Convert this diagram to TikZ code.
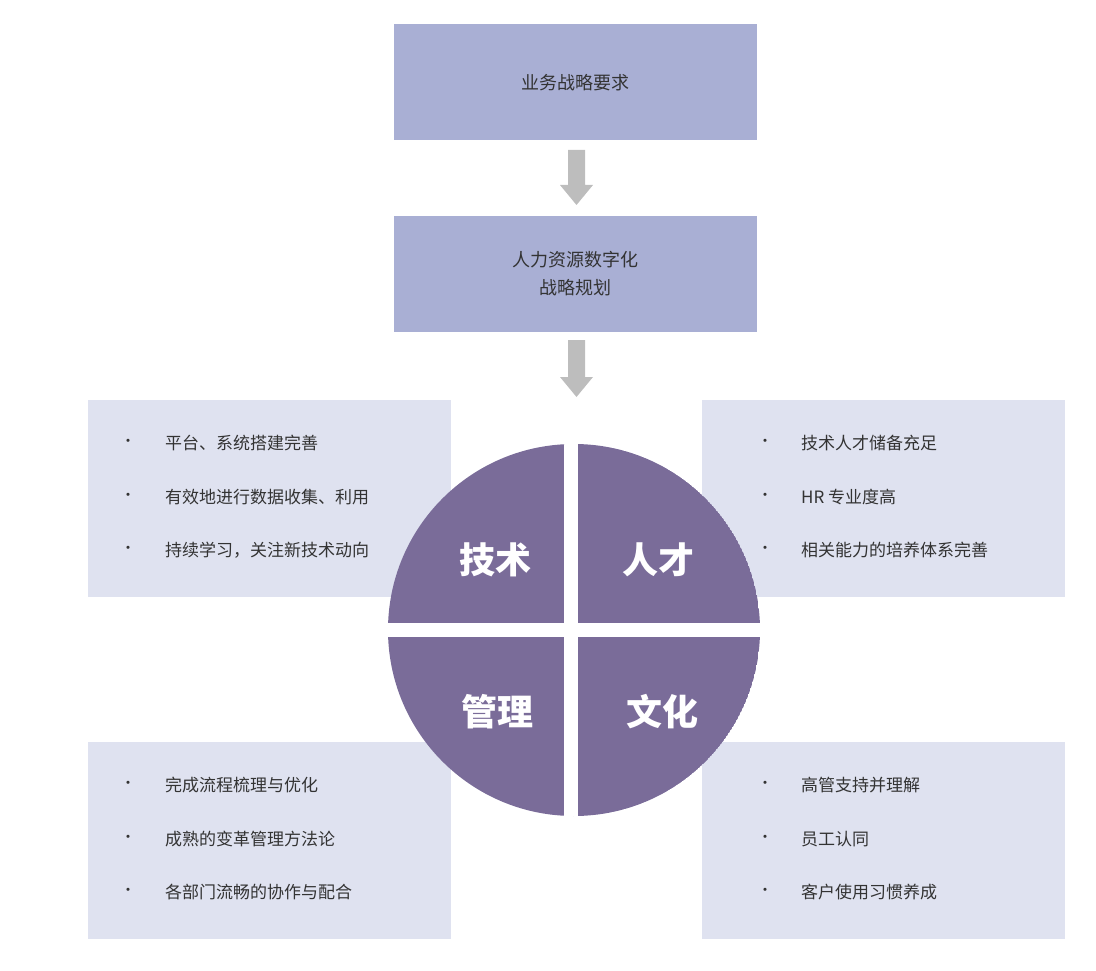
\documentclass[tikz,border=0pt]{standalone}
\usepackage{fontspec}
\setmainfont{Noto Sans CJK SC}
\definecolor{topbox}{HTML}{A9AFD4}
\definecolor{lightbox}{HTML}{DFE2F0}
\definecolor{pie}{HTML}{7A6C99}
\definecolor{arr}{HTML}{BDBDBD}
\definecolor{txt}{HTML}{333333}
\begin{document}
\begin{tikzpicture}[x=1pt,y=-1pt,
  topnode/.style={fill=topbox,minimum width=363pt,minimum height=116pt,inner sep=0pt,font=\fontsize{18}{28}\selectfont,text=txt,align=center},
  listbox/.style={fill=lightbox,minimum width=363pt,minimum height=197pt,inner sep=0pt},
  item/.style={anchor=west,font=\fontsize{17}{20}\selectfont,text=txt,inner sep=0pt},
  bul/.style={font=\fontsize{15}{18}\selectfont,text=txt,inner sep=0pt},
  quad/.style={font=\bfseries\fontsize{36}{40}\selectfont,text=white}]
\useasboundingbox (0,0) rectangle (1096,971);
\node[topnode] (req) at (575.5,82.5) {业务战略要求};
\node[topnode] (plan) at (575.5,274) {人力资源数字化\\战略规划};
\fill[arr] (568,150) -- (585,150) -- (585,185) -- (593,185) -- (576.5,205) -- (560,185) -- (568,185) -- cycle;
\fill[arr] (568,340) -- (585,340) -- (585,377) -- (593,377) -- (576.5,397) -- (560,377) -- (568,377) -- cycle;
\node[listbox] (tl) at (269.5,498.5) {};
\node[listbox] (tr) at (883.5,498.5) {};
\node[listbox] (bl) at (269.5,840.5) {};
\node[listbox] (br) at (883.5,840.5) {};
% items
\foreach \y/\t [count=\i] in {443/平台、系统搭建完善,497/有效地进行数据收集、利用,550/持续学习，关注新技术动向}{
  \node[bul] (tlb\i) at (128,\y) {•}; \node[item] (tli\i) at (165,\y) {\t};}
\foreach \y/\t [count=\i] in {443/技术人才储备充足,497/HR 专业度高,550/相关能力的培养体系完善}{
  \node[bul] (trb\i) at (765,\y) {•}; \node[item] (tri\i) at (801,\y) {\t};}
\foreach \y/\t [count=\i] in {785/完成流程梳理与优化,839/成熟的变革管理方法论,892/各部门流畅的协作与配合}{
  \node[bul] (blb\i) at (128,\y) {•}; \node[item] (bli\i) at (165,\y) {\t};}
\foreach \y/\t [count=\i] in {785/高管支持并理解,839/员工认同,892/客户使用习惯养成}{
  \node[bul] (brb\i) at (765,\y) {•}; \node[item] (bri\i) at (801,\y) {\t};}
% pie
\begin{scope}
\clip (574,630) circle (186);
\fill[pie] (574,630) circle (186);
\fill[white] (564,440) rectangle (578,820);
\fill[white] (380,623) rectangle (770,637);
\end{scope}
\node[quad] (q1) at (495,560) {技术};
\node[quad] (q2) at (658,560) {人才};
\node[quad] (q3) at (497,712) {管理};
\node[quad] (q4) at (662,712) {文化};
\end{tikzpicture}
\end{document}
